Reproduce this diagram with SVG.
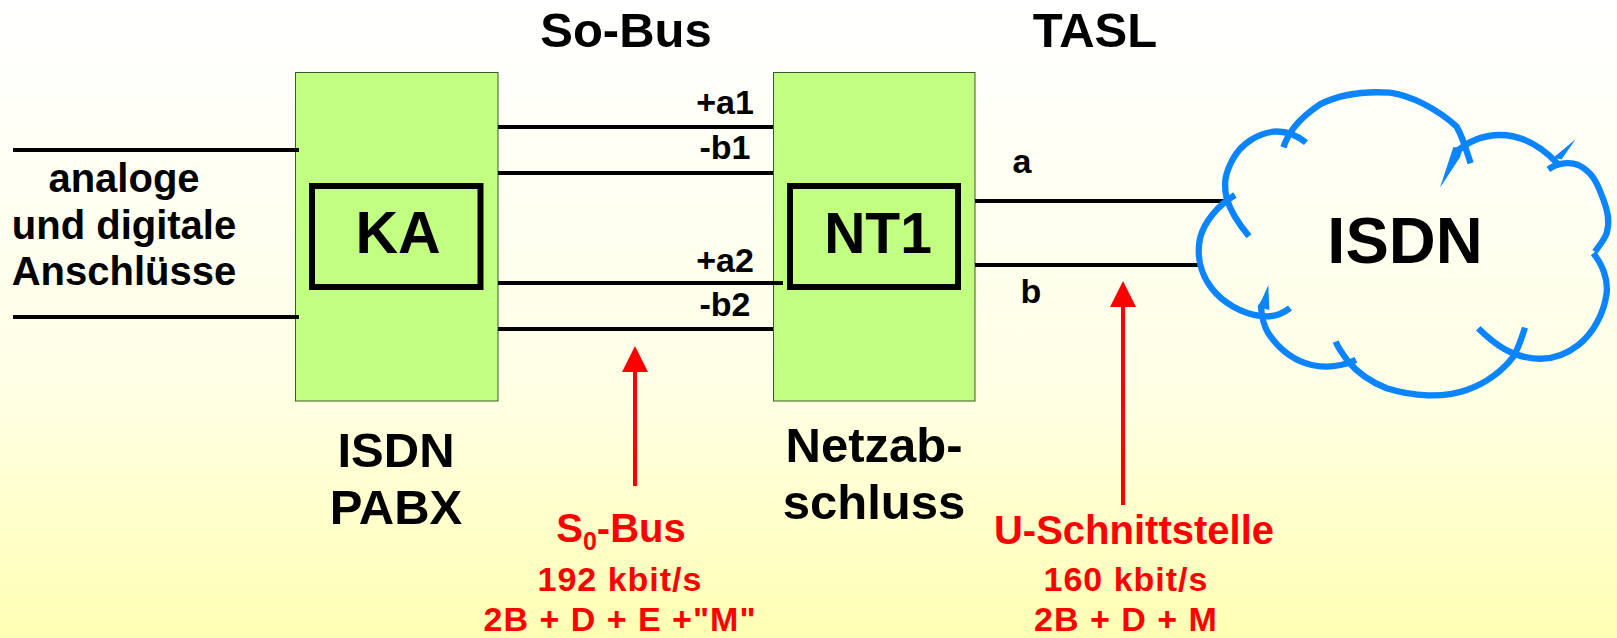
<svg xmlns="http://www.w3.org/2000/svg" width="1617" height="638" viewBox="0 0 1617 638">
<defs>
<linearGradient id="bg" x1="0" y1="0" x2="0" y2="1"><stop offset="0" stop-color="#ffffff"/><stop offset="0.6" stop-color="#ffffe6"/><stop offset="1" stop-color="#ffffb4"/></linearGradient>
<marker id="ah" markerUnits="userSpaceOnUse" markerWidth="28" markerHeight="28" refX="1" refY="13" orient="auto"><path d="M1 0L27 13L1 26Z" fill="#ff0000"/></marker>
</defs>
<style>
text{font-family:"Liberation Sans",Arial,sans-serif;font-weight:700;text-anchor:middle;fill:#000}
.box{fill:#c2ff80;stroke:#3c5a28;stroke-width:1}
.inner{fill:none;stroke:#000;stroke-width:6}
.w{stroke:#000;stroke-width:4;fill:none}
.red{stroke:#f00;stroke-width:4;fill:none}
.big{font-size:49px}
.lab{font-size:40px}
.mid{font-size:34px}
.rt1{font-size:40px;fill:#f00}
.rt2{font-size:34px;letter-spacing:1px;fill:#f00}
.cl{fill:none;stroke:#0a84ff;stroke-width:19;stroke-linejoin:round}
.sp{fill:#0a84ff}
</style>
<rect width="1617" height="638" fill="url(#bg)"/>
<g id="ka"><rect class="box" x="295.500" y="72.500" width="202.500" height="328.500"/><rect class="inner" x="312" y="186" width="168.500" height="101"/><text x="398" y="253" style="font-size:59px">KA</text></g>
<g id="nt1"><rect class="box" x="773.500" y="72.500" width="201.500" height="328.500"/><rect class="inner" x="790" y="186" width="168" height="101"/><text x="878" y="253" style="font-size:57px">NT1</text></g>
<g id="connectors">
<path class="w" d="M13 150H299M13 317H299M498 127H773M498 173H773M498 283H783M498 329H773M975 201H1225M975 265H1198"/>
<path class="red" d="M635 486V372" marker-end="url(#ah)"/>
<path class="red" d="M1123 505V307" marker-end="url(#ah)"/>
</g>
<g id="cloud"><g transform="translate(1180 70) scale(.3333)">
<path class="cl" d="M330 714C300 738 270 742 240 738C185 730 130 700 95 655C60 610 50 555 60 505C72 455 115 405 165 375"/>
<path class="cl" d="M207 499C175 460 150 420 140 385C130 340 135 310 160 265C185 220 235 190 280 185C315 182 350 195 378 218"/>
<path class="cl" d="M310 232C325 190 350 150 420 103C490 68 570 64 630 68C690 76 770 115 830 170C850 205 860 245 872 280"/>
<path class="cl" d="M825 250C860 215 910 195 960 195C1030 195 1085 230 1132 280"/>
<path class="cl" d="M1105 298C1135 278 1170 275 1195 285C1235 305 1250 335 1265 375C1285 425 1290 455 1280 490C1270 515 1255 530 1245 545"/>
<path class="cl" d="M1240 550C1265 580 1285 625 1280 670C1272 730 1240 790 1195 825C1150 860 1100 870 1060 865C1000 860 950 830 895 775"/>
<path class="cl" d="M1035 773C1025 805 1015 835 1000 860C970 900 920 940 860 960C790 985 700 980 620 955C570 935 530 905 505 875C490 855 475 835 467 815"/>
<path class="cl" d="M528 870C490 888 440 895 395 885C340 872 295 835 265 790C250 765 245 740 243 710"/>
<path class="sp" d="M1187 208L1145 268L1118 265Z"/><path class="sp" d="M780 353L820 232L850 232L840 262Z"/><path class="sp" d="M265 645L268 720L232 710L245 690Z"/>
</g>
<text x="1405" y="263" style="font-size:65px">ISDN</text></g>
<g id="labels">
<text x="626" y="47" class="big">So-Bus</text>
<text x="1095" y="47" class="big">TASL</text>
<text x="124" y="192" class="lab">analoge</text>
<text x="124" y="239" class="lab">und digitale</text>
<text x="124" y="285" class="lab">Anschlüsse</text>
<text x="725" y="114" class="mid">+a1</text><text x="725" y="159" class="mid">-b1</text>
<text x="725" y="272" class="mid">+a2</text><text x="725" y="316" class="mid">-b2</text>
<text x="1022" y="173" class="mid">a</text><text x="1031" y="303" class="mid">b</text>
<text x="396" y="467" class="big">ISDN</text><text x="396" y="524" class="big">PABX</text>
<text x="874" y="462" class="big">Netzab-</text><text x="874" y="519" class="big">schluss</text>
<text x="621" y="542" class="rt1">S<tspan dy="8" style="font-size:25px">0</tspan><tspan dy="-8">-Bus</tspan></text>
<text x="620" y="591" class="rt2">192 kbit/s</text>
<text x="620" y="630.500" class="rt2">2B + D + E +"M"</text>
<text x="1134" y="544" class="rt1">U-Schnittstelle</text>
<text x="1126" y="591" class="rt2">160 kbit/s</text>
<text x="1126" y="630.500" class="rt2">2B + D + M</text>
</g>
</svg>
